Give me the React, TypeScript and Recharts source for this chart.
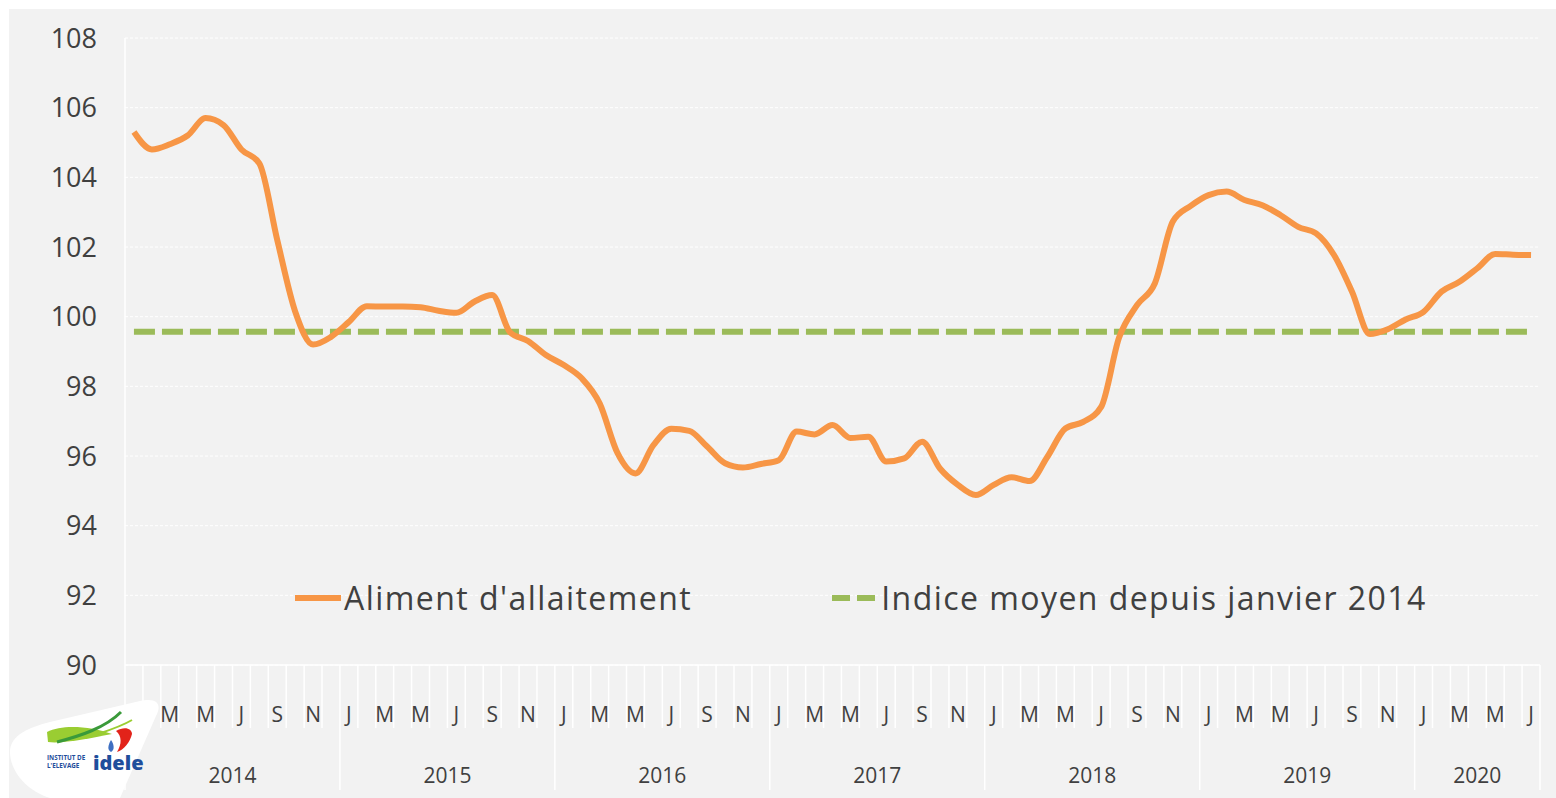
import React from "react";
import {
  CartesianGrid,
  Legend,
  Line,
  LineChart,
  XAxis,
  YAxis,
} from "recharts";

// Indice des prix - aliment d'allaitement (base 100), Jan 2014 -> Jul 2020
const monthInitials = ["J", "F", "M", "A", "M", "J", "J", "A", "S", "O", "N", "D"];
const years = [2014, 2015, 2016, 2017, 2018, 2019, 2020];

const aliment2014 = [105.3, 104.8, 104.95, 105.2, 105.7, 105.5, 104.8, 104.4, 102.2, 100.15, 99.2, 99.42];
const aliment2015 = [99.85, 100.3, 100.29, 100.29, 100.27, 100.17, 100.11, 100.43, 100.62, 99.55, 99.3, 98.9];
const aliment2016 = [98.61, 98.23, 97.51, 96.08, 95.5, 96.31, 96.78, 96.72, 96.27, 95.79, 95.67, 95.77];
const aliment2017 = [95.88, 96.7, 96.62, 96.89, 96.52, 96.55, 95.84, 95.93, 96.41, 95.64, 95.17, 94.88];
const aliment2018 = [95.17, 95.39, 95.28, 95.98, 96.79, 96.98, 97.41, 99.4, 100.33, 100.96, 102.73, 103.18];
const aliment2019 = [103.49, 103.59, 103.35, 103.2, 102.92, 102.58, 102.39, 101.77, 100.72, 99.5, 99.64, 99.92];
const aliment2020 = [100.14, 100.72, 101.0, 101.39, 101.8, 101.78, 101.77];

const alimentByYear = [aliment2014, aliment2015, aliment2016, aliment2017, aliment2018, aliment2019, aliment2020];

// moyenne de l'indice depuis janvier 2014
const averageIndex = 99.57;

const yTicks = [90, 92, 94, 96, 98, 100, 102, 104, 106, 108];

const ORANGE = "#F79646";
const GREEN = "#9BBB59";
const TEXT = "#404040";
const FONT = "'Open Sans', 'DejaVu Sans', sans-serif";

const data = years.flatMap((year, yi) =>
  alimentByYear[yi].map((v, m) => ({
    key: `${year}-${m + 1}`,
    month: monthInitials[m],
    monthIndex: m,
    year,
    yearIndex: yi,
    aliment: v,
    moyenne: averageIndex,
  }))
);

const W = 1556;
const H = 798;
const PLOT_LEFT = 125;
const PLOT_RIGHT = 1540;
const PLOT_TOP = 38;
const PLOT_BOTTOM = 665;
const BAND = (PLOT_RIGHT - PLOT_LEFT) / data.length;

const MonthTick = (props: any) => {
  const { x, payload } = props;
  const i = payload.index;
  const d = data[i];
  if (!d) return null;
  const left = x - BAND / 2;
  const isLast = i === data.length - 1;
  const monthsInYear = alimentByYear[d.yearIndex].length;
  const midMonth = Math.floor(monthsInYear / 2);
  const yearLabelX = monthsInYear % 2 === 0 ? left : x;
  return (
    <g>
      <line
        x1={left}
        x2={left}
        y1={PLOT_BOTTOM}
        y2={d.monthIndex === 0 ? 790 : 728}
        stroke="#fff"
        strokeWidth={1.5}
      />
      {isLast && (
        <line x1={x + BAND / 2} x2={x + BAND / 2} y1={PLOT_BOTTOM} y2={790} stroke="#fff" strokeWidth={1.5} />
      )}
      {d.monthIndex % 2 === 0 && (
        <text x={x} y={722} textAnchor="middle" fontSize={21} fill={TEXT} fontFamily={FONT}>
          {d.month}
        </text>
      )}
      {d.monthIndex === midMonth && (
        <text x={yearLabelX} y={783} textAnchor="middle" fontSize={21} fill={TEXT} fontFamily={FONT}>
          {d.year}
        </text>
      )}
    </g>
  );
};

const legendItems = [
  { label: "Aliment d'allaitement", color: ORANGE, dash: undefined as string | undefined },
  { label: "Indice moyen depuis janvier 2014", color: GREEN, dash: "18 7" },
];

const LegendContent = () => (
  <div style={{ display: "flex", alignItems: "center", paddingLeft: 295, height: 40 }}>
    {legendItems.map((item, idx) => (
      <div
        key={item.label}
        style={{ display: "flex", alignItems: "center", marginRight: idx === 0 ? 140 : 0 }}
      >
        <svg width={46} height={8} style={{ marginRight: 3 }}>
          <line x1={0} x2={46} y1={4} y2={4} stroke={item.color} strokeWidth={6} strokeDasharray={item.dash} />
        </svg>
        <span
          style={{ fontSize: 32, color: TEXT, fontFamily: FONT, lineHeight: "40px", letterSpacing: 1.45 }}
        >
          {item.label}
        </span>
      </div>
    ))}
  </div>
);

const Logo = () => (
  <svg width={170} height={110} style={{ position: "absolute", left: 0, top: 688 }}>
    <path
      d="M10 64 C10 47 30 39 50 34 L140 13 C158 9 162 17 156 28 L120 110 L50 110 C25 102 10 82 10 64 Z"
      fill="#fff"
    />
    <path d="M47 44 C62 36 90 38 112 46 C92 50 62 56 48 54 Z" fill="#9ACD32" />
    <path d="M57 54 C80 48 105 40 121 24" stroke="#3A9A3A" strokeWidth={3} fill="none" />
    <path d="M98 46 C110 42 122 38 132 32" stroke="#9ACD32" strokeWidth={2} fill="none" />
    <path d="M116 43 C124 38 132 40 132 46 C130 54 124 62 117 64 C122 56 122 48 116 43 Z" fill="#E2231A" />
    <path d="M111 52 C108 57 107 62 111 64 C115 62 114 56 111 52 Z" fill="#3E6FC2" />
    <text x={47} y={72} fontSize={6.3} fontWeight={700} fill="#1F4E9C" fontFamily={FONT}>
      INSTITUT DE
    </text>
    <text x={47} y={80} fontSize={6.3} fontWeight={700} fill="#1F4E9C" fontFamily={FONT}>
      L'ELEVAGE
    </text>
    <text x={93} y={82} fontSize={20} fontWeight={800} fill="#1F4E9C" fontFamily={FONT}>
      idele
    </text>
  </svg>
);

export default function App() {
  return (
    <div style={{ position: "absolute", left: 0, top: 0, width: W, height: H, background: "#fff" }}>
      <div style={{ position: "absolute", left: 9, top: 9, right: 0, bottom: 0, background: "#F2F2F2" }} />
      <div style={{ position: "absolute", left: 0, top: 0 }}>
        <LineChart
          width={W}
          height={H}
          data={data}
          margin={{ top: PLOT_TOP, right: W - PLOT_RIGHT, bottom: 0, left: 8 }}
        >
          <CartesianGrid vertical={false} stroke="#fff" strokeDasharray="3 2" />
          <XAxis
            dataKey="key"
            height={H - PLOT_BOTTOM}
            interval={0}
            padding={{ left: BAND / 2, right: BAND / 2 }}
            tickLine={false}
            axisLine={{ stroke: "#fff", strokeWidth: 1.5 }}
            tick={<MonthTick />}
          />
          <YAxis
            width={PLOT_LEFT - 8}
            domain={[90, 108]}
            ticks={yTicks}
            tickLine={false}
            tickSize={0}
            tickMargin={28}
            axisLine={{ stroke: "#fff", strokeWidth: 1.5 }}
            tick={{ fontSize: 27, fill: TEXT, fontFamily: FONT }}
          />
          <Line
            type="monotone"
            dataKey="moyenne"
            name="Indice moyen depuis janvier 2014"
            stroke={GREEN}
            strokeWidth={6}
            strokeDasharray="21 7"
            dot={false}
            activeDot={false}
            isAnimationActive={false}
          />
          <Line
            type="monotone"
            dataKey="aliment"
            name="Aliment d'allaitement"
            stroke={ORANGE}
            strokeWidth={6}
            dot={false}
            activeDot={false}
            isAnimationActive={false}
          />
          <Legend
            layout="horizontal"
            verticalAlign="middle"
            align="center"
            wrapperStyle={{ top: 578, left: 0, width: W }}
            content={<LegendContent />}
          />
        </LineChart>
      </div>
      <Logo />
    </div>
  );
}
